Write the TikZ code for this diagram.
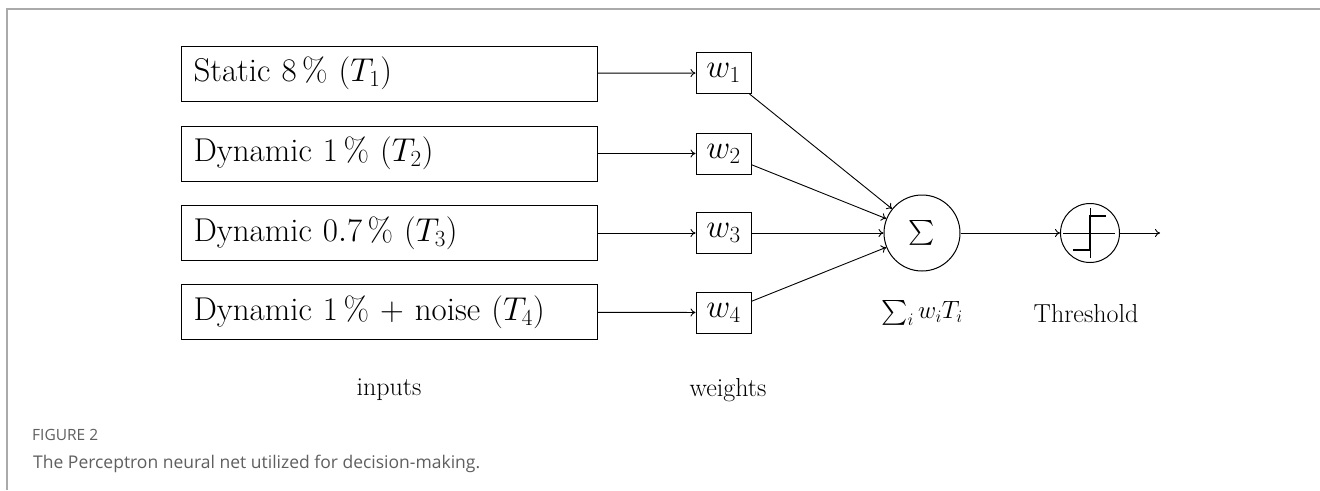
\RequirePackage{fix-cm}
\documentclass[tikz,border=0pt]{standalone}
\usepackage{exscale}
\usepackage{fontspec}
\newfontfamily\capfont{Open Sans}
\usetikzlibrary{arrows.meta}
\definecolor{framegray}{RGB}{170,170,170}
\definecolor{capgray}{RGB}{95,95,95}
\begin{document}
\begin{tikzpicture}[x=1pt,y=-1pt,
  every node/.style={font=\fontsize{33}{38}\selectfont},
  inbox/.style={draw, line width=1pt, anchor=west, minimum height=55pt, text width=392pt, inner xsep=12pt, inner ysep=0pt, align=left},
  wbox/.style={draw, line width=1pt, minimum width=55pt, minimum height=41pt, inner sep=0pt},
  conn/.style={line width=0.9pt, -{To[length=5pt,width=8pt]}},
  lbl/.style={font=\fontsize{26}{30}\selectfont},
  capsmall/.style={font=\capfont\fontsize{15.5}{18}\selectfont, text=capgray, anchor=base west, inner sep=0pt},
  captext/.style={font=\capfont\fontsize{17.5}{21}\selectfont, text=capgray, anchor=base west, inner sep=0pt}
]
\useasboundingbox (0,0) rectangle (1320,490);
\fill[white] (0,0) rectangle (1320,490);
\draw[framegray, line width=2pt] (7,490) -- (7,9) -- (1320,9);

\node[inbox] (in1) at (181,73.5) {Static $8\,\%$ ($T_1$)};
\node[inbox] (in2) at (181,153.5) {Dynamic $1\,\%$ ($T_2$)};
\node[inbox] (in3) at (181,233) {Dynamic $0.7\,\%$ ($T_3$)};
\node[inbox] (in4) at (181,312) {Dynamic $1\,\%$ + noise ($T_4$)};

\node[wbox] (w1) at (723.5,73) {$w_1$};
\node[wbox] (w2) at (723.5,153.5) {$w_2$};
\node[wbox] (w3) at (723.5,233) {$w_3$};
\node[wbox] (w4) at (723.5,312.5) {$w_4$};

\node[draw, circle, line width=1pt, minimum size=76pt, inner sep=0pt, font=\fontsize{34}{40}\selectfont] (sum) at (922,233) {$\sum$};
\node[draw, circle, line width=1pt, minimum size=59pt, inner sep=0pt] (thr) at (1090,233) {};
\coordinate (out) at (1160,233);

\foreach \i in {1,2,3,4} {
  \draw[conn] (in\i) -- (w\i);
  \draw[conn] (w\i) -- (sum);
}
\draw[conn] (sum) -- (thr);
\draw[conn] (thr) -- (out);

\draw[line width=0.9pt] ([shift={(-27,0)}]thr.center) -- ([shift={(25,0)}]thr.center);
\draw[line width=0.9pt] ([shift={(0,-25)}]thr.center) -- ([shift={(0,25)}]thr.center);
\draw[line width=2.6pt] ([shift={(-17,17)}]thr.center) -- ([shift={(0,17)}]thr.center) -- ([shift={(0,-17)}]thr.center) -- ([shift={(16,-17)}]thr.center);

\node[font=\fontsize{25}{30}\selectfont] (sumlbl) at (922,313) {$\sum_i w_i T_i$};
\node[lbl] (thrlbl) at (1086,314) {Threshold};
\node[lbl] (inlbl) at (389,390) {inputs};
\node[lbl] (wlbl) at (728,390) {weights};

\node[capsmall] (fig) at (32,440) {FIGURE 2};
\node[captext] (cap) at (33,468) {The Perceptron neural net utilized for decision-making.};
\end{tikzpicture}
\end{document}
